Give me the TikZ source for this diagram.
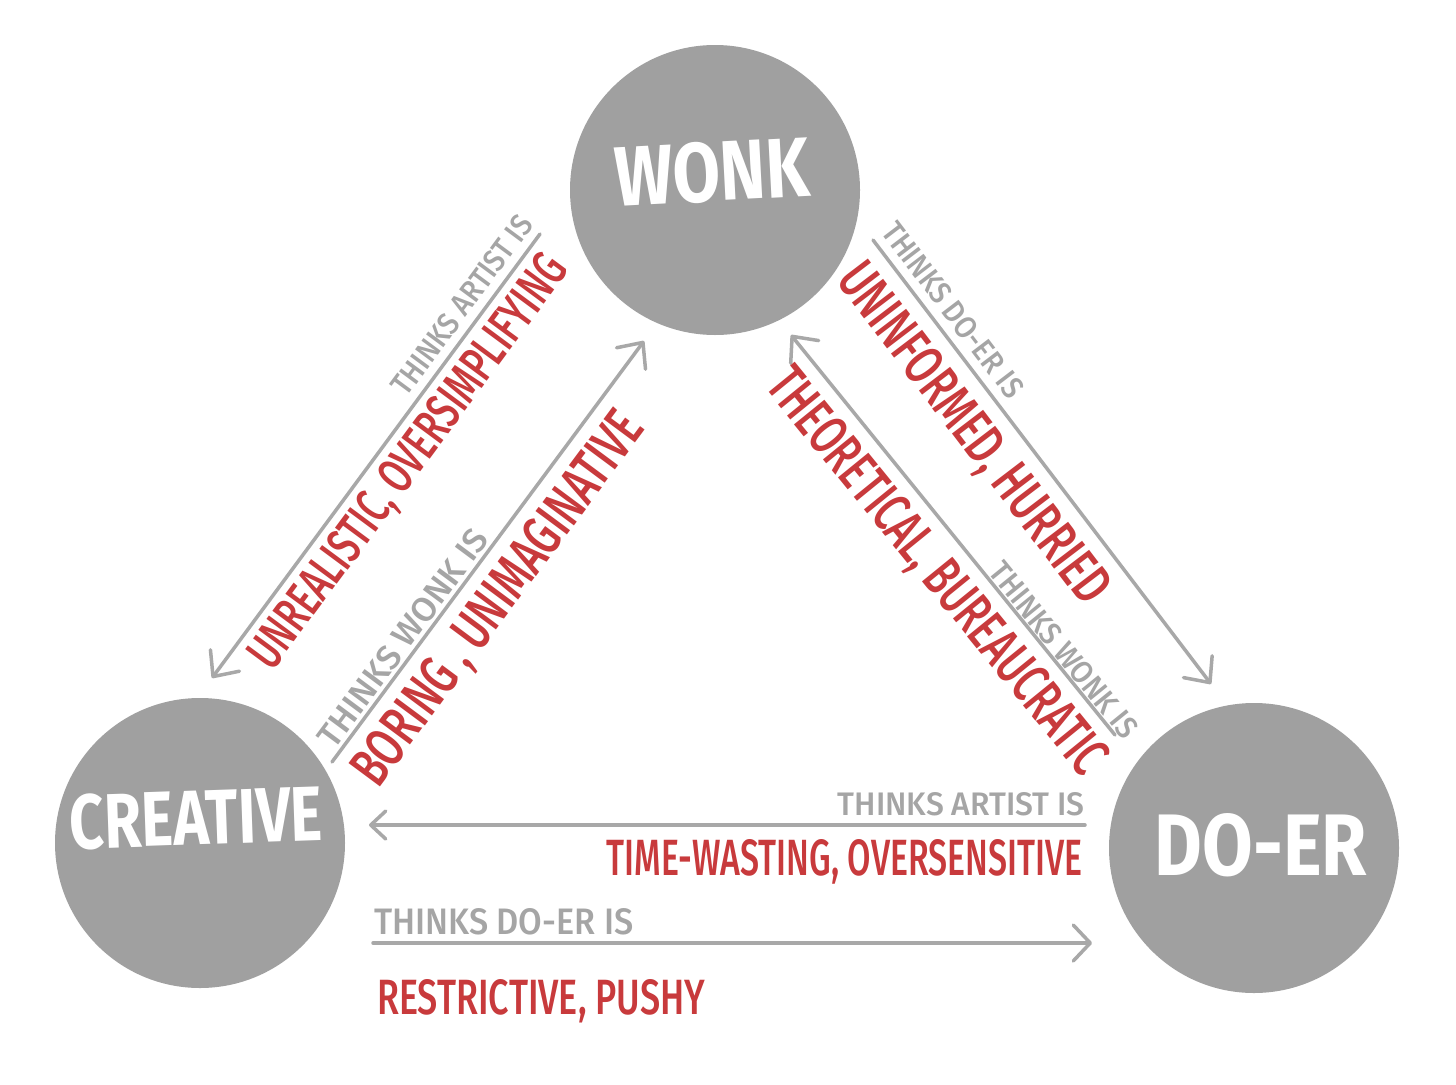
\documentclass[tikz,border=0pt]{standalone}
\usepackage{fontspec}
\setmainfont{Fira Sans}
\newfontfamily\redfont{Fira Sans Medium}
\usepackage{graphicx}
\usetikzlibrary{arrows.meta}
\definecolor{circgray}{HTML}{A0A0A0}
\definecolor{linegray}{HTML}{A8A8A8}
\definecolor{txtgray}{HTML}{A5A5A5}
\definecolor{redtxt}{HTML}{C83A3C}
\newcommand{\fitbox}[3]{\resizebox{#1pt}{#2pt}{#3}}
\tikzset{
  circ/.style={circle, fill=circgray, draw=none, minimum size=290pt, inner sep=0pt},
  wlab/.style={text=white, inner sep=0pt, font=\bfseries},
  glab/.style={text=txtgray, inner sep=0pt, font=\redfont},
  rlab/.style={text=redtxt, inner sep=0pt, font=\redfont},
  arr/.style={draw=linegray, line width=3.5pt, line cap=round,
    -{Straight Barb[length=20pt,width=36pt,round]}},
}
\begin{document}
\begin{tikzpicture}[x=1pt,y=-1pt]
\fill[white] (0,0) rectangle (1456,1084);
\useasboundingbox (0,0) rectangle (1456,1084);

% circles
\node[circ] (wonk) at (715,190) {};
\node[circ] (creative) at (200,843) {};
\node[circ] (doer) at (1254,848) {};
\node[wlab, rotate=3] (wonkt) at (712,172) {\fitbox{195}{60}{WONK}};
\node[wlab, rotate=2] (creativet) at (196,818) {\fitbox{252}{55}{CREATIVE}};
\node[wlab] (doert) at (1261,845) {\fitbox{212}{62}{DO-ER}};

% endpoints
\coordinate (a1s) at (540,234);  \coordinate (a1e) at (212,678);
\coordinate (a2s) at (332,762);  \coordinate (a2e) at (644,341);
\coordinate (a3s) at (873,240);  \coordinate (a3e) at (1211,684);
\coordinate (a4s) at (1115,735); \coordinate (a4e) at (791,335);
\coordinate (a5s) at (1085,825); \coordinate (a5e) at (369,825);
\coordinate (a6s) at (373,943);  \coordinate (a6e) at (1092,943);

\draw[arr] (a1s) -- (a1e);
\draw[arr] (a2s) -- (a2e);
\draw[arr] (a3s) -- (a3e);
\draw[arr] (a4s) -- (a4e);
\draw[arr, -{Straight Barb[length=15pt,width=28pt,round]}] (a5s) -- (a5e);
\draw[arr, -{Straight Barb[length=17pt,width=36pt,round]}] (a6s) -- (a6e);

% labels line 1
\node[glab, rotate=53.5] (l1g) at (462,305) {\fitbox{215}{22}{THINKS ARTIST IS}};
\node[rlab, rotate=53.5] (l1r) at (410,463) {\fitbox{500}{36}{UNREALISTIC, OVERSIMPLIFYING}};
% labels line 2
\node[glab, rotate=53.4] (l2g) at (403,638) {\fitbox{262}{24}{THINKS WONK IS}};
\node[rlab, rotate=53.4] (l2r) at (500,600) {\fitbox{450}{40}{BORING , UNIMAGINATIVE}};
% labels line 3
\node[glab, rotate=-52.7] (l3g) at (953,310) {\fitbox{212}{22}{THINKS DO-ER IS}};
\node[rlab, rotate=-52.7] (l3r) at (972,435) {\fitbox{412}{40}{UNINFORMED, HURRIED}};
% labels line 4
\node[glab, rotate=-50.9] (l4g) at (1064,650) {\fitbox{216}{22}{THINKS WONK IS}};
\node[rlab, rotate=-50.9] (l4r) at (935,573) {\fitbox{505}{40}{THEORETICAL, BUREAUCRATIC}};
% horizontal labels
\node[glab, anchor=base east] (l5g) at (1085,815) {\fitbox{247}{23}{THINKS ARTIST IS}};
\node[rlab, anchor=base east] (l5r) at (1083,875) {\fitbox{476}{36}{TIME-WASTING, OVERSENSITIVE}};
\node[glab, anchor=base west] (l6g) at (374,934) {\fitbox{259}{26}{THINKS DO-ER IS}};
\node[rlab, anchor=base west] (l6r) at (377,1014) {\fitbox{328}{35}{RESTRICTIVE, PUSHY}};
\end{tikzpicture}
\end{document}
